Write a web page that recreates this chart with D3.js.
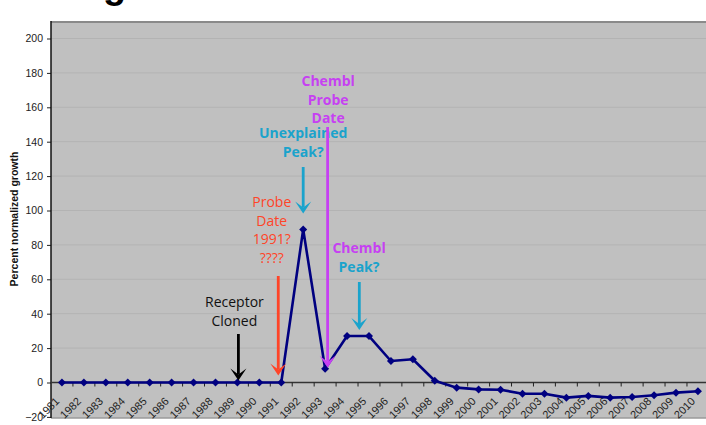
<!DOCTYPE html>
<html><head><meta charset="utf-8">
<script src="https://cdn.jsdelivr.net/npm/d3@7"></script>
<style>body{margin:0;background:#fff} svg{display:block}</style>
</head><body><svg id="c" width="706" height="425"></svg>
<script>
const years = ["1981","1982","1983","1984","1985","1986","1987","1988","1989","1990",
  "1991","1992","1993","1994","1995","1996","1997","1998","1999","2000",
  "2001","2002","2003","2004","2005","2006","2007","2008","2009","2010"];
const growth = [0,0,0,0,0,0,0,0,0,0,
  0,89,8,27,27,12.5,13.5,1,-3,-4,
  -4.2,-6.5,-6.5,-8.8,-7.8,-8.8,-8.4,-7.4,-5.9,-5.1];
const yTicks = [-20,0,20,40,60,80,100,120,140,160,180,200];
const yTitle = "Percent normalized growth";
const titleFragment = "g";
const receptorText = ["Receptor","Cloned"];
const probeText = ["Probe","Date","1991?","????"];
const unexplainedText = ["Unexplained","Peak?"];
const chemblProbeText = ["Chembl","Probe","Date"];
const chemblPeakText = ["Chembl","Peak?"];

const W = 706, H = 425;
const L = 51, T = 21, B = 418;
const svg = d3.select("#c");
const x = d3.scaleBand().domain(years).range([L, L + 30 * 21.93]);
const cx = d => x(d) + x.bandwidth() / 2;
const y = d3.scaleLinear().domain([-20, 200]).range([416.9, 38.5]);

const COL_NAVY = "#000080", COL_CYAN = "#1aa3cc", COL_PURPLE = "#c640f2", COL_RED = "#ff4428";

// title fragment (cut off at top)
svg.append("text").attr("x", 103).attr("y", -2)
  .attr("font-family", "Liberation Sans, Arial, sans-serif").attr("font-weight", 700)
  .attr("font-size", 38).attr("fill", "#000").text(titleFragment);

// plot background
svg.append("rect").attr("x", L).attr("y", T).attr("width", W - L).attr("height", B - T).attr("fill", "#c0c0c0");

// gridlines
svg.append("g").selectAll("line").data(yTicks.filter(t => t > 0)).join("line")
  .attr("x1", L).attr("x2", W).attr("y1", d => y(d)).attr("y2", d => y(d))
  .attr("stroke", "#b3b3b3").attr("stroke-width", 1);

// borders
svg.append("line").attr("x1", L).attr("x2", W).attr("y1", T + 1).attr("y2", T + 1).attr("stroke", "#8a8a8a").attr("stroke-width", 2);
svg.append("line").attr("x1", L).attr("x2", W).attr("y1", B).attr("y2", B).attr("stroke", "#9a9a9a").attr("stroke-width", 1.5);

// y axis
const yAxis = d3.axisLeft(y).tickValues(yTicks).tickSize(4).tickSizeOuter(0).tickPadding(4);
const gy = svg.append("g").attr("transform", `translate(${L},0)`).call(yAxis);
gy.select(".domain").remove();
gy.selectAll(".tick line").attr("stroke", "#222");
gy.selectAll(".tick text").attr("font-family", "Liberation Sans, Arial, sans-serif").attr("font-size", 10.5).attr("fill", "#222");
svg.append("line").attr("x1", L).attr("x2", L).attr("y1", T).attr("y2", B).attr("stroke", "#111").attr("stroke-width", 1.5);

// y title
svg.append("text").attr("transform", `translate(17.5,${219}) rotate(-90)`).attr("text-anchor", "middle")
  .attr("font-family", "Liberation Sans, Arial, sans-serif").attr("font-weight", 700).attr("font-size", 10.5)
  .attr("fill", "#111").text(yTitle);

// x axis line at 0
const y0 = y(0);
svg.append("line").attr("x1", L).attr("x2", W).attr("y1", y0).attr("y2", y0).attr("stroke", "#333").attr("stroke-width", 1.5);
svg.append("g").selectAll("line").data(years.slice(1)).join("line")
  .attr("x1", d => x(d)).attr("x2", d => x(d)).attr("y1", y0).attr("y2", y0 + 4)
  .attr("stroke", "#222").attr("stroke-width", 1);
svg.append("g").selectAll("text").data(years).join("text")
  .attr("transform", d => `translate(${cx(d) - 2},402) rotate(-45)`)
  .attr("text-anchor", "end").attr("font-family", "Liberation Sans, Arial, sans-serif")
  .attr("font-size", 11).attr("fill", "#222").text(d => d);

// data line
const pts = years.map((yr, i) => ({ yr, v: growth[i] }));
svg.append("path").datum(pts)
  .attr("d", d3.line().x(d => cx(d.yr)).y(d => y(d.v)))
  .attr("fill", "none").attr("stroke", COL_NAVY).attr("stroke-width", 2.6).attr("stroke-linejoin", "round");
const diamond = { draw(ctx, size) { const r = Math.sqrt(size) / 2; ctx.moveTo(0, -r); ctx.lineTo(r, 0); ctx.lineTo(0, r); ctx.lineTo(-r, 0); ctx.closePath(); } };
svg.append("g").selectAll("path").data(pts).join("path")
  .attr("transform", d => `translate(${cx(d.yr)},${y(d.v)})`)
  .attr("d", d3.symbol().type(diamond).size(64)).attr("fill", COL_NAVY);

// annotation helpers
function label(lines, colors, xc, y1, lh, weight) {
  svg.append("g").selectAll("text").data(lines).join("text")
    .attr("x", xc).attr("y", (d, i) => y1 + i * lh).attr("text-anchor", "middle")
    .attr("font-family", "Open Sans, sans-serif").attr("font-weight", weight).attr("font-size", 14)
    .attr("fill", (d, i) => colors[i % colors.length]).text(d => d);
}
function arrow(xp, ya, tip, color) {
  const g = svg.append("g");
  g.append("line").attr("x1", xp).attr("x2", xp).attr("y1", ya).attr("y2", tip - 6)
    .attr("stroke", color).attr("stroke-width", 2.8);
  g.append("path").attr("d", `M${xp},${tip} L${xp - 8},${tip - 12} L${xp},${tip - 6} L${xp + 8},${tip - 12} Z`)
    .attr("fill", color);
}

label(receptorText, ["#111"], cx("1989") - 3, 307, 18.5, 400);
arrow(cx("1989") + 1, 334, y0 - 2, "#000");

label(probeText, [COL_RED], cx("1991") - 9.5, 207, 18.7, 400);
arrow(cx("1991") - 3, 276, y0 - 7, COL_RED);

label(unexplainedText, [COL_CYAN], cx("1992"), 138, 19, 700);
arrow(cx("1992"), 167, y(89) - 16, COL_CYAN);

label(chemblProbeText, [COL_PURPLE], cx("1993") + 3, 86, 18.7, 700);
arrow(cx("1993") + 2.5, 127, y(8) - 1, COL_PURPLE);

label(chemblPeakText, [COL_PURPLE, COL_CYAN], (cx("1994") + cx("1995")) / 2 + 1, 253, 19, 700);
arrow((cx("1994") + cx("1995")) / 2 + 1.3, 282, y(27) - 6, COL_CYAN);
</script></body></html>
